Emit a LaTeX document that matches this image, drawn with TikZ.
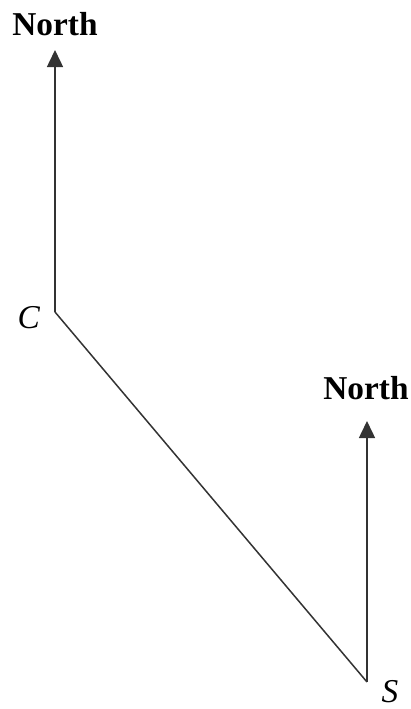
\documentclass[tikz,border=0pt]{standalone}
\usepackage{fontspec}
\setmainfont{Liberation Serif}
\usetikzlibrary{arrows.meta,positioning}
\tikzset{bearing/.style={draw=black!80, line width=0.45pt},
  northtip/.style={-{Triangle[width=4.8pt,length=5.1pt]}}}
\begin{document}
\begin{tikzpicture}[x=0.3pt,y=-0.3pt]
    %% \draw[help lines] (0,0) grid (411,709);
    \useasboundingbox (0,0) rectangle (411,709);
    \node (C) at (55,312) {};
    \node (N1) at (55,50) {};
    \node (S) at (367,682) {};
    \node (N2) at (367,421) {};
    \node[font=\bfseries] (lN1) at (55,24) {North};
    \node[font=\bfseries] (lN2) at (366,388) {North};
    \node (lC) at (29,318) {\textit{C}};
    \node (lS) at (390,692) {\textit{S}};
    \draw[bearing, northtip] (C.center) -- (N1.center);
    \draw[bearing] (C.center) -- (S.center);
    \draw[bearing, northtip] (S.center) -- (N2.center);
\end{tikzpicture}
\end{document}
